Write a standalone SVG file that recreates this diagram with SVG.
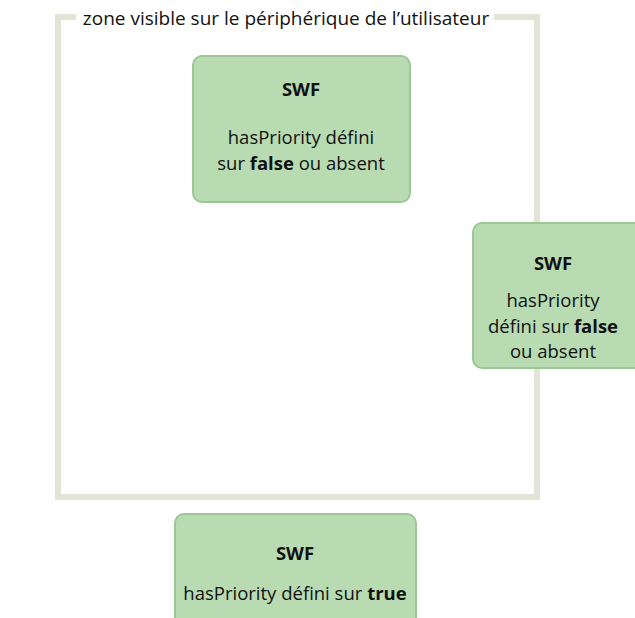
<svg xmlns="http://www.w3.org/2000/svg" width="635" height="618" viewBox="0 0 635 618">
<style>
.frame{fill:none;stroke:#e4e4d6;stroke-width:6}
.box{fill:#b8dbb2;stroke:#9cc794;stroke-width:2}
text{font-family:"Open Sans","Noto Sans",sans-serif;font-size:18.5px;fill:#111;text-anchor:middle}
.t{font-weight:bold}
</style>
<rect width="635" height="618" fill="#fff"/>
<g id="zone">
<path class="frame" d="M76,17 H58 V497 H537 V17 H494"/>
<text x="286" y="25" style="font-size:19px">zone visible sur le périphérique de l’utilisateur</text>
</g>
<g id="connectors"></g>
<g id="swf1">
<rect class="box" x="193" y="56" width="217" height="146" rx="9"/>
<text class="t" x="301" y="96">SWF</text>
<text x="301" y="144">hasPriority défini</text>
<text x="301" y="170">sur <tspan font-weight="bold">false</tspan> ou absent</text>
</g>
<g id="swf2">
<rect class="box" x="473" y="223" width="175" height="145" rx="9"/>
<text class="t" x="553" y="270">SWF</text>
<text x="553" y="307">hasPriority</text>
<text x="553" y="333">défini sur <tspan font-weight="bold">false</tspan></text>
<text x="553" y="358">ou absent</text>
</g>
<g id="swf3">
<rect class="box" x="175" y="514" width="241" height="120" rx="9"/>
<text class="t" x="295" y="560">SWF</text>
<text x="295" y="600">hasPriority défini sur <tspan font-weight="bold">true</tspan></text>
</g>
</svg>
